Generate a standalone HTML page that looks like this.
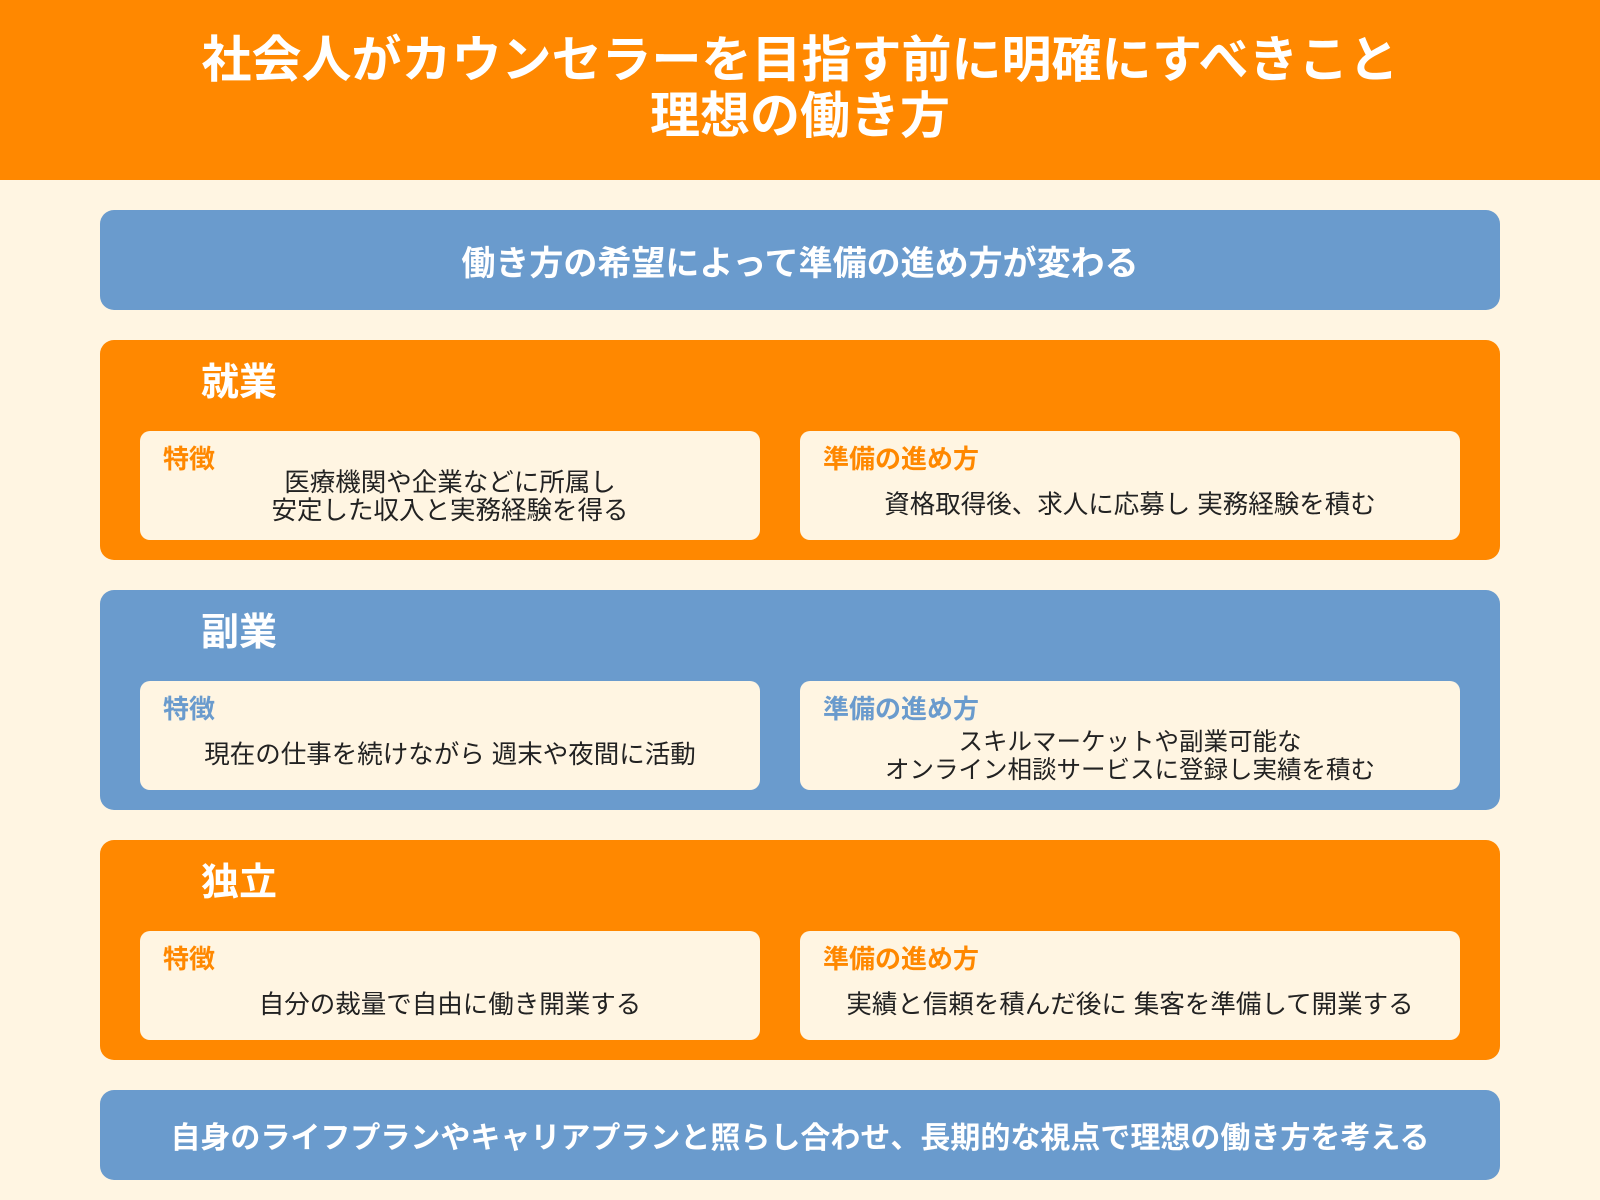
<!DOCTYPE html>
<html><head><meta charset="utf-8"><style>
*{margin:0;padding:0;box-sizing:border-box}
body{width:1600px;height:1200px;background:#FFF5E2;font-family:"Liberation Sans","Noto Sans CJK JP",sans-serif;position:relative;overflow:hidden}
.hdr{position:absolute;left:0;top:0;width:1600px;height:180px;background:#FF8800;color:#fff;font-weight:bold;font-size:50px;line-height:56px;text-align:center;padding-top:32px}
.box{position:absolute;left:100px;width:1400px;border-radius:14px}
.blue{background:#6A9BCD}
.org{background:#FF8800}
.ctext{color:#fff;font-weight:bold;display:flex;align-items:center;justify-content:center}
.st{position:absolute;left:101px;top:11px;color:#fff;font-weight:bold;font-size:38px}
.card{position:absolute;top:91px;height:109px;background:#FFF5E2;border-radius:10px}
.lab{position:absolute;left:23px;top:8px;font-weight:bold;font-size:26px}
.txt{position:absolute;left:0;right:0;top:0;bottom:0;display:flex;align-items:center;justify-content:center;text-align:center;font-size:25.5px;line-height:28px;color:#222;padding-top:38px}
</style></head><body>
<div class="hdr">社会人がカウンセラーを目指す前に明確にすべきこと<br>理想の働き方</div>
<div class="box blue ctext" style="top:210px;height:100px;font-size:34px">働き方の希望によって準備の進め方が変わる</div>

<div class="box org" style="top:340px;height:220px">
<div class="st">就業</div>
<div class="card" style="left:40px;width:620px"><div class="lab" style="color:#FF8800">特徴</div><div class="txt" style="padding-top:22px">医療機関や企業などに所属し<br>安定した収入と実務経験を得る</div></div>
<div class="card" style="left:700px;width:660px"><div class="lab" style="color:#FF8800">準備の進め方</div><div class="txt">資格取得後、求人に応募し 実務経験を積む</div></div>
</div>

<div class="box blue" style="top:590px;height:220px">
<div class="st">副業</div>
<div class="card" style="left:40px;width:620px"><div class="lab" style="color:#6A9BCD">特徴</div><div class="txt">現在の仕事を続けながら 週末や夜間に活動</div></div>
<div class="card" style="left:700px;width:660px"><div class="lab" style="color:#6A9BCD">準備の進め方</div><div class="txt" style="padding-top:42px;font-size:24.5px">スキルマーケットや副業可能な<br>オンライン相談サービスに登録し実績を積む</div></div>
</div>

<div class="box org" style="top:840px;height:220px">
<div class="st">独立</div>
<div class="card" style="left:40px;width:620px"><div class="lab" style="color:#FF8800">特徴</div><div class="txt">自分の裁量で自由に働き開業する</div></div>
<div class="card" style="left:700px;width:660px"><div class="lab" style="color:#FF8800">準備の進め方</div><div class="txt">実績と信頼を積んだ後に 集客を準備して開業する</div></div>
</div>

<div class="box blue ctext" style="top:1090px;height:90px;font-size:30px">自身のライフプランやキャリアプランと照らし合わせ、長期的な視点で理想の働き方を考える</div>
</body></html>
